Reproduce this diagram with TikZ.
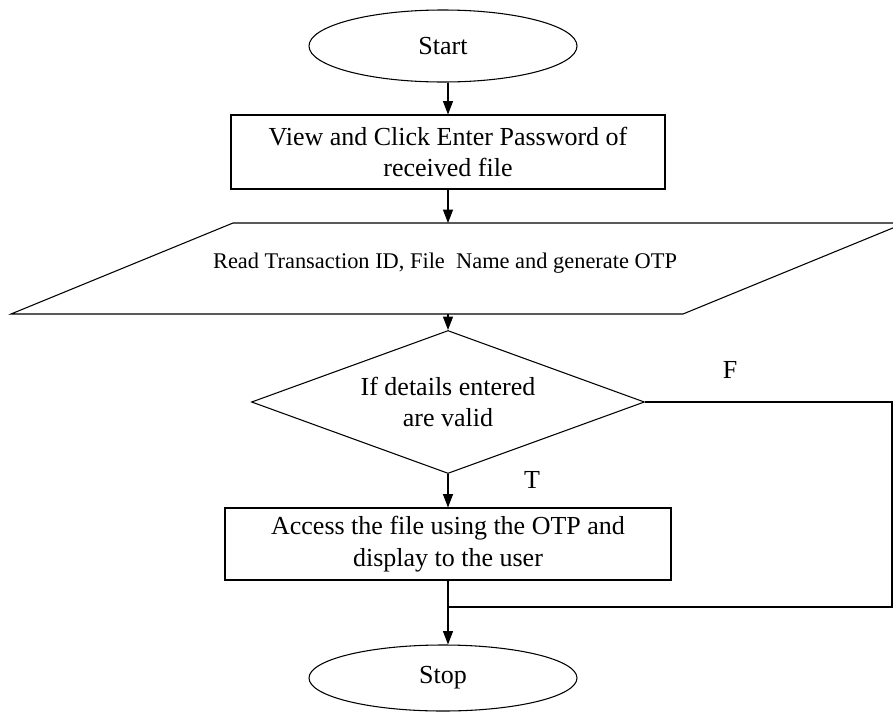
\documentclass[tikz,border=0pt]{standalone}
\usepackage{fontspec}
\setmainfont{Liberation Serif}
\usetikzlibrary{shapes,arrows.meta}

\tikzset{
  term/.style={ellipse, draw, line width=0.8pt, minimum width=201pt, minimum height=54pt, inner sep=0pt, font=\fontsize{19.5}{23.5}\selectfont},
  procbox/.style={rectangle, draw, line width=0.8pt, inner sep=0pt, align=center, font=\fontsize{19.5}{23.5}\selectfont},
  decide/.style={diamond, draw, line width=0.8pt, inner sep=0pt, aspect=2.75, align=center, font=\fontsize{19.5}{23.5}\selectfont},
  flow/.style={line width=0.8pt, -{Triangle[length=10pt,width=7.5pt]}},
  link/.style={line width=0.8pt}
}

\begin{document}
\begin{tikzpicture}[x=0.75pt,y=0.75pt,yscale=-1,xscale=1]
\useasboundingbox (0,0) rectangle (893,711);

%Flowchart: Terminator [start]
\node[term] (start) at (443,46) {Start};
%Flowchart: Process [view]
\node[procbox, minimum width=325.5pt, minimum height=55.5pt] (view) at (448,152) {View and Click Enter Password of\\received file};
%Flowchart: Data [read]
\draw[line width=0.8pt] (233,223) -- (905,223) -- (683,314) -- (11,314) -- cycle ;
\coordinate (readtop) at (448,223);
\coordinate (readbot) at (448,314);
\node[font=\fontsize{16.8}{20}\selectfont] (read) at (445,263) {Read Transaction ID, File~~Name and generate OTP};
%Flowchart: Decision [valid]
\node[decide, minimum width=294.75pt, minimum height=107.25pt] (valid) at (448,402) {If details entered\\are valid};
%Flowchart: Process [access]
\node[procbox, minimum width=334.5pt, minimum height=54pt] (access) at (448,544) {Access the file using the OTP and\\display to the user};
%Flowchart: Terminator [stop]
\node[term, minimum height=49.5pt] (stop) at (443,678) {Stop};

%Straight Lines [false branch]
\coordinate (fright) at (892,402);
\coordinate (fdown) at (892,607);
\coordinate (join) at (448,607);

% Connectors
\draw[flow] (start.south -| view.north) -- (view.north) ;
\draw[flow] (view.south) -- (readtop) ;
\draw[flow] (readbot) -- (valid.north) ;
\draw[flow] (valid.south) -- (access.north) ;
\draw[flow] (access.south) -- (stop.north -| access.south) ;
\draw[link] (valid.east) -- (fright) -- (fdown) -- (join) ;

% Text Node
\node[font=\fontsize{19.5}{23.5}\selectfont] (flabel) at (730,370) {F};
% Text Node
\node[font=\fontsize{19.5}{23.5}\selectfont] (tlabel) at (532,480) {T};

\end{tikzpicture}
\end{document}
